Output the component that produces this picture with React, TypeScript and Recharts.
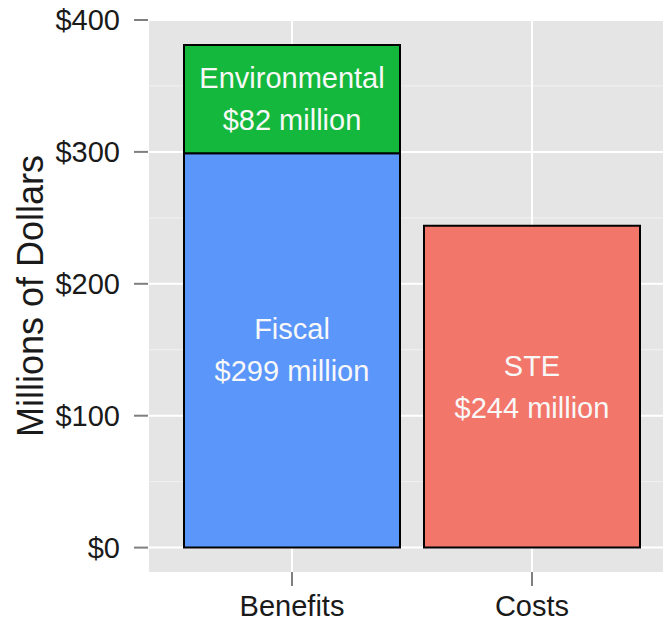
import { Bar, BarChart, CartesianGrid, LabelList, XAxis, YAxis } from "recharts"

const CATEGORIES = ["Benefits", "Costs"]
const FISCAL = [299, 0]
const ENVIRONMENTAL = [82, 0]
const STE = [0, 244]
const Y_TICKS = [0, 100, 200, 300, 400]
const Y_MINOR = [50, 150, 250, 350]
const Y_TITLE = "Millions of Dollars"

const SERIES = [
  { key: "fiscal", name: "Fiscal", values: FISCAL, color: "#5b96fb" },
  { key: "environmental", name: "Environmental", values: ENVIRONMENTAL, color: "#14b83c" },
  { key: "ste", name: "STE", values: STE, color: "#f3766a" },
]

const data = CATEGORIES.map((category, i) => {
  const row: Record<string, string | number> = { category }
  SERIES.forEach((s) => {
    row[s.key] = s.values[i]
  })
  return row
})

const FONT = "'Liberation Sans', Arial, Helvetica, sans-serif"

function segmentLabel(name: string) {
  return (props: any) => {
    const box = props.viewBox ?? props
    const value = Number(props.value ?? 0)
    if (!value) return null
    const cx = box.x + box.width / 2
    const cy = box.y + box.height / 2
    return (
      <g fontFamily={FONT} fontSize={29} fill="#f8f8f8" textAnchor="middle">
        <text x={cx} y={cy - 11}>{name}</text>
        <text x={cx} y={cy + 31}>{`$${value} million`}</text>
      </g>
    )
  }
}

function yTitle(props: any) {
  const box = props.viewBox
  const cx = box.x + 43
  const cy = box.y + box.height / 2
  return (
    <text
      x={cx}
      y={cy}
      transform={`rotate(-90 ${cx} ${cy})`}
      textAnchor="middle"
      fontFamily={FONT}
      fontSize={36}
      fill="#1a1a1a"
    >
      {Y_TITLE}
    </text>
  )
}

export default function App() {
  return (
    <div
      style={{
        position: "fixed",
        left: 0,
        top: 0,
        width: 663,
        height: 622,
        overflow: "hidden",
        background: "#fff",
      }}
    >
      <BarChart
        width={676}
        height={622}
        data={data}
        margin={{ top: 20, right: 0, bottom: 0, left: 0 }}
        barCategoryGap="5%"
      >
        <CartesianGrid
          fill="#e5e5e5"
          stroke="#f2f2f2"
          strokeWidth={1}
          vertical={false}
          horizontalValues={Y_MINOR}
        />
        <CartesianGrid stroke="#ffffff" strokeWidth={2} horizontalValues={Y_TICKS} />
        <XAxis
          dataKey="category"
          padding={{ left: 24, right: 24 }}
          axisLine={false}
          tickSize={14}
          tickMargin={9}
          height={50}
          tickLine={{ stroke: "#7f7f7f", strokeWidth: 2 }}
          tick={{ fontSize: 29, fill: "#1a1a1a", fontFamily: FONT }}
        />
        <YAxis
          width={148}
          domain={[-18.5, 400]}
          allowDataOverflow
          ticks={Y_TICKS}
          tickFormatter={(v) => `$${v}`}
          axisLine={false}
          tickSize={14}
          tickMargin={14}
          tickLine={{ stroke: "#7f7f7f", strokeWidth: 2 }}
          tick={{ fontSize: 29, fill: "#1a1a1a", fontFamily: FONT }}
          label={{ content: yTitle }}
        />
        {SERIES.map((s) => (
          <Bar
            key={s.key}
            dataKey={s.key}
            stackId="a"
            fill={s.color}
            stroke="#000"
            strokeWidth={2}
            isAnimationActive={false}
          >
            <LabelList dataKey={s.key} content={segmentLabel(s.name)} />
          </Bar>
        ))}
      </BarChart>
    </div>
  )
}
